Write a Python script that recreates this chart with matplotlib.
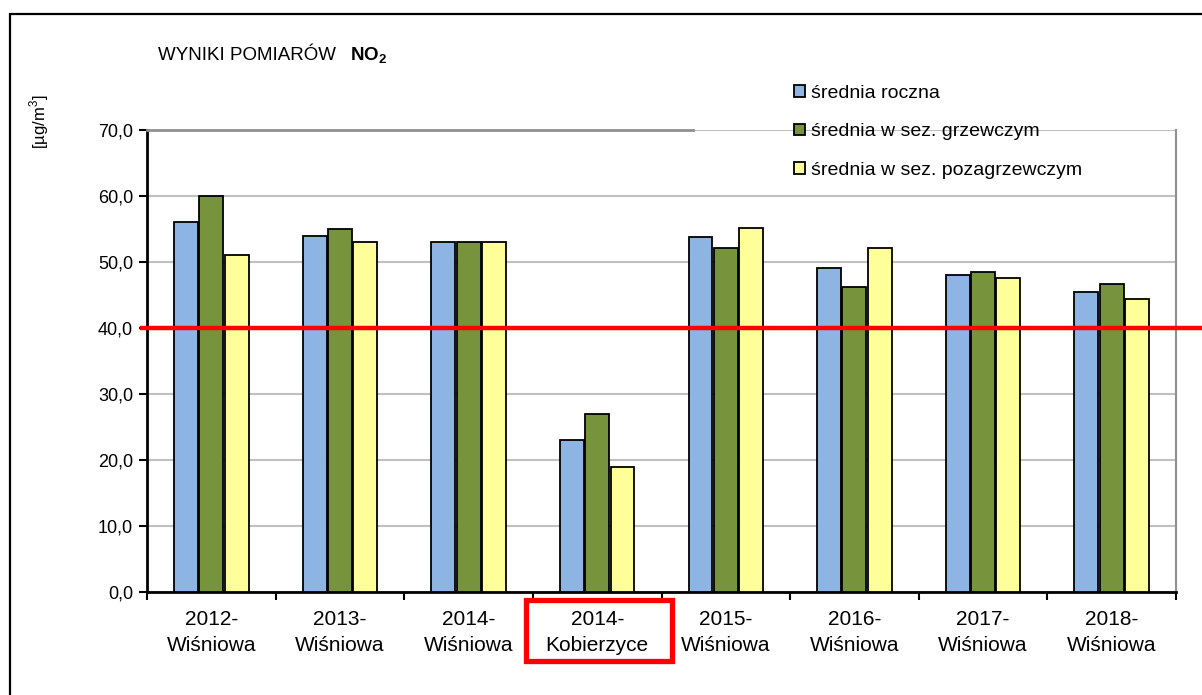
import matplotlib
matplotlib.use("Agg")
import matplotlib.pyplot as plt
import matplotlib.patches as mpatches
import matplotlib.transforms as mtransforms
import numpy as np

plt.rcParams['font.family'] = ['Liberation Sans', 'DejaVu Sans']
plt.rcParams['mathtext.fontset'] = 'custom'
plt.rcParams['mathtext.rm'] = 'Liberation Sans'
plt.rcParams['mathtext.bf'] = 'Liberation Sans:bold'

categories = ["2012-\nWiśniowa", "2013-\nWiśniowa", "2014-\nWiśniowa", "2014-\nKobierzyce",
              "2015-\nWiśniowa", "2016-\nWiśniowa", "2017-\nWiśniowa", "2018-\nWiśniowa"]
roczna = [56.0, 54.0, 53.0, 23.0, 53.8, 49.1, 48.0, 45.5]
grzewczy = [60.0, 55.0, 53.0, 27.0, 52.1, 46.2, 48.5, 46.7]
pozagrzewczy = [51.0, 53.0, 53.0, 19.0, 55.2, 52.1, 47.6, 44.4]
series_labels = ["średnia roczna", "średnia w sez. grzewczym", "średnia w sez. pozagrzewczym"]
limit_value = 40.0
yticks = [0, 10, 20, 30, 40, 50, 60, 70]
highlight_index = 3

colors = ["#8EB4E3", "#77933C", "#FFFF99"]

W, H = 1202, 695
fig = plt.figure(figsize=(W / 100, H / 100), dpi=100)
ax = fig.add_axes([147 / W, 1 - 592 / H, (1176 - 147) / W, (592 - 130) / H])

x = np.arange(len(categories))
bw = 0.186
step = 0.197
for i, (vals, c, lab) in enumerate(zip([roczna, grzewczy, pozagrzewczy], colors, series_labels)):
    ax.bar(x + (i - 1) * step, vals, width=bw, color=c, edgecolor="black", linewidth=1.3,
           label=lab, zorder=3)

ax.set_xlim(-0.5, len(categories) - 0.5)
ax.set_ylim(0, 70)
ax.set_yticks(yticks)
ax.set_yticklabels([f"{v:.1f}".replace(".", ",") for v in yticks], fontsize=13)
ax.yaxis.grid(True, color="#c0c0c0", linewidth=1.5, zorder=0)
ax.set_axisbelow(True)

# x ticks at boundaries, labels at centers
ax.set_xticks(np.arange(-0.5, len(categories), 1.0))
ax.set_xticklabels([])
ax.set_xticks(x, minor=True)
ax.set_xticklabels(categories, minor=True, fontsize=15, linespacing=1.45)
ax.tick_params(axis="x", which="major", direction="out", length=6, width=1.5, color="black")
ax.tick_params(axis="x", which="minor", length=0, pad=13)
ax.tick_params(axis="y", direction="out", length=6, width=1.5, color="black", pad=4)

for s in ["left", "bottom"]:
    ax.spines[s].set_linewidth(2)
    ax.spines[s].set_color("black")
ax.spines["right"].set_color("#909090")
ax.spines["right"].set_linewidth(1.5)
ax.spines["top"].set_visible(False)
ax.plot([0, (693 - 147) / (1176 - 147)], [1, 1], transform=ax.transAxes, color="#909090",
        linewidth=2, clip_on=False, zorder=4)

# limit line
ax.axhline(limit_value, xmin=-0.005, xmax=(1202 - 147) / (1176 - 147), color="red",
           linewidth=3.2, clip_on=False, zorder=5)

# highlight box around category label
trans = mtransforms.blended_transform_factory(ax.transData, ax.transAxes)
hx0 = highlight_index - 0.555
ax.add_patch(mpatches.Rectangle((hx0, (592 - 661) / 462), 1.135, (661 - 600) / 462,
                                transform=trans, fill=False, edgecolor="red", linewidth=3.8,
                                clip_on=False, zorder=6))

# texts
fig.text(158 / W, 1 - 55 / H, "WYNIKI POMIARÓW", fontsize=13.5, ha="left", va="center")
fig.text(350 / W, 1 - 55 / H, r"$\mathbf{NO_2}$", fontsize=13.5, ha="left", va="center")
fig.text(39 / W, 1 - 122 / H, r"[µg/m$^3$]", fontsize=12, rotation=90, ha="center", va="center")

leg = fig.legend(loc="upper left", bbox_to_anchor=(794 / W, 1 - 85 / H), frameon=False,
                 fontsize=14, handlelength=0.55, handleheight=0.55, handletextpad=0.3,
                 labelspacing=1.1, borderpad=0, borderaxespad=0)

# outer frame
fig.add_artist(mpatches.Rectangle((10 / W, -0.1), 1.2, (H - 14) / H + 0.1,
                                  transform=fig.transFigure, fill=False, edgecolor="black",
                                  linewidth=1.6))

fig.savefig("out.png", dpi=100)
